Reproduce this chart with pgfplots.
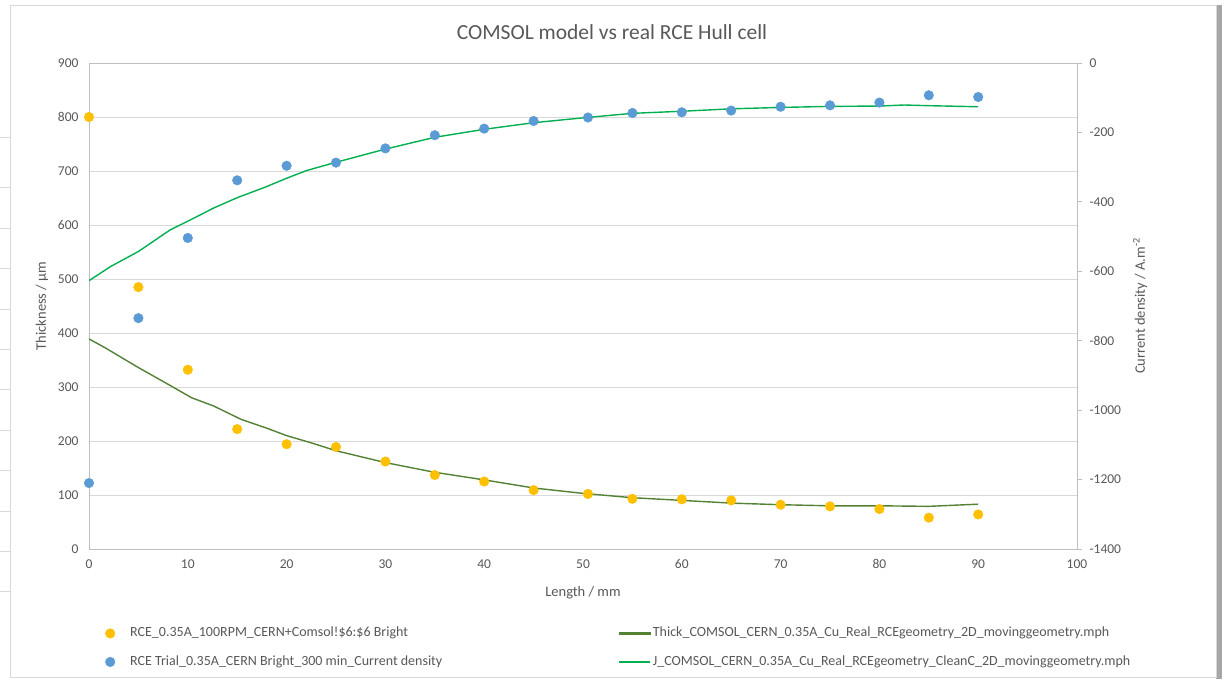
\documentclass[border=0pt]{standalone}
\usepackage{fontspec}
\setmainfont{Carlito}
\usepackage{pgfplots}
\pgfplotsset{compat=1.18}
\definecolor{txt}{HTML}{595959}
\definecolor{gridc}{HTML}{D9D9D9}
\definecolor{axl}{HTML}{BFBFBF}
\definecolor{yel}{HTML}{FFC000}
\definecolor{blu}{HTML}{5B9BD5}
\definecolor{dgreen}{HTML}{548235}
\definecolor{bgreen}{HTML}{00B050}

\pgfplotstableread{
x y
0 800
5 485
10 332
15 222
20 194
25 189
30 162
35 137
40 125
45 109
50.5 102
55 93
60 92
65 90
70 82
75 79
80 74
85 58
90 64
}\yellowdata

\pgfplotstableread{
x y
0 -1210
5 -735
10 -504
15 -338
20 -296
25 -287
30 -246
35 -208
40 -189
45 -167
50.5 -157
55 -144
60 -142
65 -137
70 -126
75 -122
80 -114
85 -93
90 -98
}\bluedata

\pgfplotstableread{
x y
0 389
1.6 373
5 336
8.2 303
10.4 280
12.6 265
15.4 240
17.8 225
20 210
22.6 196
25 182
30 160
35 142
40 128
45 113
50 103
55 95
60 90
65 85
70 82
75 80
80 80
85 79
90 83
}\thickdata

\pgfplotstableread{
x y
0 -627
2.2 -586
5 -543
8.2 -481
10.4 -450
12.6 -418
15 -388
17.8 -358
20 -332
22 -310
25 -286
30 -248
35 -214
40 -191
45 -172
50 -158
55 -145
60 -139
65 -132
70 -128
75 -125
80 -124
82.5 -121
85 -123
90 -126
}\jdata

\pgfplotsset{
  common/.style={
    at={(89pt,132pt)}, anchor=south west, scale only axis,
    width=988pt, height=486pt,
    xmin=0, xmax=100,
    /pgf/number format/assume math mode=true,
    /pgf/number format/1000 sep={},
    tick label style={font=\fontsize{13.5}{16}\selectfont, text=txt},
    axis line style={axl, line width=0.9pt},
    legend cell align=left,
    legend style={draw=none, fill=none, inner xsep=0pt, inner ysep=0pt, row sep=12pt,
      font=\fontsize{14}{16}\selectfont, text=txt,
      nodes={inner sep=2pt, text height=9.5pt, text depth=3pt}},
  },
}

\begin{document}
\begin{tikzpicture}[x=1pt,y=1pt]
\path[use as bounding box] (0,0) rectangle (1232,681);
\fill[white] (0,0) rectangle (1232,681);
\fill[black!35] (1216,2) rectangle (1222,676);
\draw[gridc, line width=0.9pt] (10,4) rectangle (1216,676);
\foreach \yy in {137,187,228,268,309,349,389,430,470,511,551,591} {
  \draw[gridc, line width=0.8pt] (0,681-\yy) -- (10,681-\yy);
}
\node[font=\fontsize{21.5}{24}\selectfont, text=txt] at (612,649) {COMSOL model vs real RCE Hull cell};

\begin{axis}[common,
  ymin=0, ymax=900, ytick={0,100,...,900},
  xtick={0,10,...,100},
  major tick length=0pt,
  ymajorgrids, grid style={gridc, line width=0.9pt},
  xlabel={Length / mm},
  ylabel={Thickness / µm},
  every axis x label/.style={at={(axis description cs:0.5,-0.089)}, anchor=center, font=\fontsize{14.5}{16}\selectfont, text=txt},
  every axis y label/.style={at={(axis description cs:-0.0476,0.5)}, rotate=90, anchor=center, font=\fontsize{14.5}{16}\selectfont, text=txt},
  xticklabel style={yshift=-7pt},
  yticklabel style={xshift=-7pt},
  legend image code/.code={\path[draw=none,fill=none] (0pt,-4pt) rectangle (23pt,4pt); \draw[#1] plot coordinates {(5pt,0pt)};},
  legend style={at={(axis description cs:0.0162,-0.1564)}, anchor=north west},
]
\addplot[forget plot, dgreen, line width=1.4pt, no markers] table[x=x,y=y] {\thickdata};
\addplot[only marks, mark=*, mark size=4.8pt, color=yel] table[x=x,y=y] {\yellowdata};
\addlegendentry{RCE\_0.35A\_100RPM\_CERN+Comsol!\$6:\$6 Bright}
\addlegendimage{only marks, mark=*, mark size=4.8pt, color=blu}
\addlegendentry{RCE Trial\_0.35A\_CERN Bright\_300 min\_Current density}
\end{axis}

\begin{axis}[common,
  ymin=-1400, ymax=0, ytick={-1400,-1200,...,0},
  axis y line*=right, axis x line=none,
  tick align=outside, major tick length=5pt,
  ytick style={axl, line width=0.9pt},
  ylabel={Current density / A.m\textsuperscript{-2}},
  every axis y label/.style={at={(axis description cs:1.0638,0.5)}, rotate=90, anchor=center, font=\fontsize{14.5}{16}\selectfont, text=txt},
  yticklabel style={xshift=4pt},
  legend image code/.code={\path[draw=none,fill=none] (0pt,-4pt) rectangle (32pt,4pt); \draw[#1, line width=1.4pt] (0pt,0pt) -- (31pt,0pt);},
  legend style={at={(axis description cs:0.5354,-0.1564)}, anchor=north west},
]
\addlegendimage{legend image code/.code={\path[draw=none,fill=none] (0pt,-4pt) rectangle (32pt,4pt); \fill[dgreen] (0pt,-0.9pt) rectangle (31pt,0.9pt);}}
\addlegendentry{Thick\_COMSOL\_CERN\_0.35A\_Cu\_Real\_RCEgeometry\_2D\_movinggeometry.mph}
\addplot[forget plot, only marks, mark=*, mark size=4.8pt, color=blu] table[x=x,y=y] {\bluedata};
\addplot[bgreen, line width=1.4pt, no markers] table[x=x,y=y] {\jdata};
\addlegendentry{J\_COMSOL\_CERN\_0.35A\_Cu\_Real\_RCEgeometry\_CleanC\_2D\_movinggeometry.mph}
\end{axis}
\end{tikzpicture}
\end{document}
